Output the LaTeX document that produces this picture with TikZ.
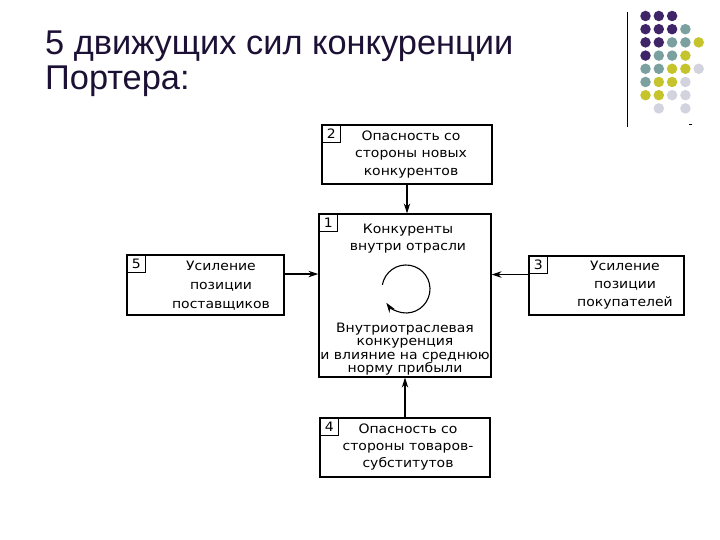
\documentclass[tikz,border=0pt]{standalone}
\usepackage{fontspec}
\setmainfont{Liberation Sans}
\newfontfamily\boxfont[FakeStretch=1.08]{DejaVu Sans}
\usetikzlibrary{arrows.meta}
\definecolor{titleink}{HTML}{1C1035}
\definecolor{dotpurple}{HTML}{3F2468}
\definecolor{dotteal}{HTML}{7BA0A0}
\definecolor{dotyellow}{HTML}{C6C42C}
\definecolor{dotgray}{HTML}{D3D3E0}

\begin{document}
\begin{tikzpicture}[x=1bp,y=1bp,>={Stealth[length=10bp,width=6.5bp]}]
  \tikzstyle{force}=[draw, line width=1.3bp, inner sep=0pt]
  \tikzstyle{num}=[draw, line width=1bp, anchor=north west, minimum width=19bp, minimum height=18bp, inner sep=0pt, font=\boxfont\fontsize{13}{13}\selectfont]
  \tikzstyle{boxtext}=[align=center, inner sep=0pt, font=\boxfont\fontsize{13}{17.5}\selectfont]
  \tikzstyle{arrow}=[->, line width=1.1bp]
  \tikzstyle{dot}=[circle, inner sep=0pt, minimum size=10.5bp]

  \useasboundingbox[fill=white] (0,0) rectangle (720,540);

  % title
  \node[anchor=base west, text=titleink, font=\fontsize{34.5}{35}\selectfont, inner sep=0pt] (title1) at (45,485) {5 движущих сил конкуренции};
  \node[anchor=base west, text=titleink, font=\fontsize{34.5}{35}\selectfont, inner sep=0pt] (title2) at (45,450) {Портера:};

  % corner decoration
  \coordinate (rtop) at (627,528);
  \coordinate (rbot) at (627,413);
  \draw[line width=1bp] (rtop) -- (rbot);
  \coordinate (tick1) at (689,416);
  \coordinate (tick2) at (692,416);
  \draw[line width=0.8bp] (tick1) -- (tick2);
  \foreach \c/\r/\col in {0/0/dotpurple,1/0/dotpurple,2/0/dotpurple,
      0/1/dotpurple,1/1/dotpurple,2/1/dotpurple,3/1/dotteal,
      0/2/dotpurple,1/2/dotpurple,2/2/dotteal,3/2/dotteal,4/2/dotyellow,
      0/3/dotpurple,1/3/dotteal,2/3/dotteal,3/3/dotyellow,
      0/4/dotteal,1/4/dotteal,2/4/dotyellow,3/4/dotyellow,4/4/dotgray,
      0/5/dotteal,1/5/dotyellow,2/5/dotyellow,3/5/dotgray,
      0/6/dotyellow,1/6/dotyellow,2/6/dotgray,3/6/dotgray,
      1/7/dotgray,3/7/dotgray}
    \node[dot, fill=\col] (d\c\r) at ({645.5+13.3*\c},{524-13.2*\r}) {};

  % forces
  \node[force, minimum width=170bp, minimum height=59bp] (b2) at (407,385.5) {};
  \node[force, minimum width=172bp, minimum height=163bp] (b1) at (405,244.5) {};
  \node[force, minimum width=157bp, minimum height=60bp] (b5) at (205.5,255) {};
  \node[force, minimum width=155bp, minimum height=59bp] (b3) at (606.5,254.5) {};
  \node[force, minimum width=170bp, minimum height=59bp] (b4) at (405,92.5) {};

  \node[num] (n2) at (b2.north west) {2};
  \node[num] (n1) at (b1.north west) {1};
  \node[num] (n5) at (b5.north west) {5};
  \node[num] (n3) at (b3.north west) {3};
  \node[num] (n4) at (b4.north west) {4};

  \node[boxtext] (t2) at (411,385.5) {Опасность со\\стороны новых\\конкурентов};
  \node[boxtext] (t1a) at (408,301.5) {Конкуренты\\внутри отрасли};
  \node[boxtext, font=\boxfont\fontsize{13}{13.5}\selectfont] (t1b) at (405,191) {Внутриотраслевая\\конкуренция\\и влияние на среднюю\\норму прибыли};
  \node[boxtext, font=\boxfont\fontsize{13}{19}\selectfont] (t5) at (221,254) {Усиление\\позиции\\поставщиков};
  \node[boxtext, font=\boxfont\fontsize{13}{18}\selectfont] (t3) at (625,255) {Усиление\\позиции\\покупателей};
  \node[boxtext] (t4) at (408,93) {Опасность со\\стороны товаров-\\субститутов};

  % rivalry loop
  \coordinate (loop) at (406,251);
  \draw[arrow] ([shift={(170:24)}]loop) arc[start angle=170, end angle=-145, radius=24];

  \draw[arrow] (b2.south) -- (b2.south |- b1.north);
  \draw[arrow] (b4.north) -- (b4.north |- b1.south);
  \draw[arrow] ([yshift=11]b5.east) -- ([yshift=11]b5.east -| b1.west);
  \draw[arrow] ([yshift=11]b3.west) -- ([yshift=11]b3.west -| b1.east);
\end{tikzpicture}
\end{document}
